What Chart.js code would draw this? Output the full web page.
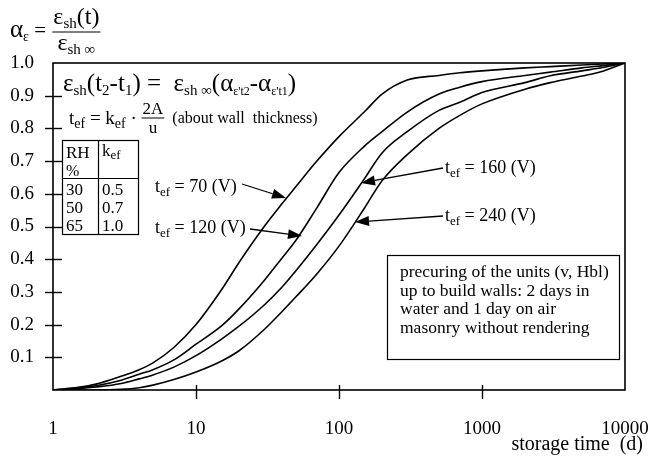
<!DOCTYPE html>
<html>
<head>
<meta charset="utf-8">
<script src="https://cdn.jsdelivr.net/npm/chart.js@4/dist/chart.umd.min.js"></script>
<style>
  body { margin: 0; background: #fff; }
  canvas { display: block; }
</style>
</head>
<body>
<canvas id="chart" width="652" height="457"></canvas>
<script>
// storage time (d) and shrinkage ratio alpha for each effective thickness
const days   = [1, 1.5, 2, 3, 4, 5, 7, 10, 15, 20, 30, 40, 50, 70, 100, 150, 200, 300, 500, 700, 1000, 2000, 3000, 5000, 7000, 10000];
const tef70  = [0, 0.008, 0.018, 0.042, 0.062, 0.083, 0.13, 0.2, 0.305, 0.39, 0.5, 0.57, 0.622, 0.7, 0.775, 0.85, 0.905, 0.948, 0.962, 0.97, 0.976, 0.985, 0.989, 0.994, 0.997, 1.0];
const tef120 = [0, 0.006, 0.013, 0.03, 0.048, 0.062, 0.092, 0.14, 0.195, 0.248, 0.335, 0.404, 0.458, 0.557, 0.665, 0.745, 0.79, 0.85, 0.905, 0.926, 0.943, 0.962, 0.972, 0.985, 0.992, 1.0];
const tef160 = [0, 0.004, 0.009, 0.02, 0.034, 0.046, 0.07, 0.105, 0.155, 0.195, 0.26, 0.315, 0.365, 0.445, 0.535, 0.645, 0.725, 0.79, 0.855, 0.88, 0.91, 0.94, 0.961, 0.976, 0.986, 1.0];
const tef240 = [0, 0, 0, 0.002, 0.007, 0.015, 0.032, 0.055, 0.088, 0.12, 0.185, 0.24, 0.285, 0.355, 0.44, 0.555, 0.64, 0.72, 0.8, 0.84, 0.875, 0.92, 0.94, 0.96, 0.975, 1.0];

const xTicks = [1, 10, 100, 1000, 10000];
const yTicks = [0.1, 0.2, 0.3, 0.4, 0.5, 0.6, 0.7, 0.8, 0.9];

// RH table
const rhValues  = ['30', '50', '65'];
const kefValues = ['0.5', '0.7', '1.0'];

const noteLines = [
    'precuring of the units (v, Hbl)',
    'up to build walls: 2 days in',
    'water and 1 day on air',
    'masonry without rendering'
];

const FONT = '"Liberation Serif", "DejaVu Serif", serif';

function rich(ctx, x, y, parts) {
    for (const [t, size, dy] of parts) {
        ctx.font = size + 'px ' + FONT;
        ctx.fillText(t, x, y + (dy || 0));
        x += ctx.measureText(t).width;
    }
    return x;
}

function richWidth(ctx, parts) {
    let w = 0;
    for (const [t, size] of parts) {
        ctx.font = size + 'px ' + FONT;
        w += ctx.measureText(t).width;
    }
    return w;
}

function fraction(ctx, x, yNum, yLine, yDen, num, den) {
    const wn = richWidth(ctx, num), wd = richWidth(ctx, den);
    const w = Math.max(wn, wd) + 2;
    rich(ctx, x + (w - wn) / 2, yNum, num);
    rich(ctx, x + (w - wd) / 2, yDen, den);
    ctx.beginPath();
    ctx.moveTo(x, yLine);
    ctx.lineTo(x + w, yLine);
    ctx.lineWidth = 1;
    ctx.stroke();
    return x + w;
}

function arrow(ctx, x1, y1, x2, y2) {
    const a = Math.atan2(y2 - y1, x2 - x1);
    const len = 14, hw = 5;
    ctx.beginPath();
    ctx.moveTo(x1, y1);
    ctx.lineTo(x2 - Math.cos(a) * len, y2 - Math.sin(a) * len);
    ctx.lineWidth = 1.3;
    ctx.stroke();
    ctx.beginPath();
    ctx.moveTo(x2, y2);
    ctx.lineTo(x2 - Math.cos(a) * len - Math.sin(a) * hw, y2 - Math.sin(a) * len + Math.cos(a) * hw);
    ctx.lineTo(x2 - Math.cos(a) * len + Math.sin(a) * hw, y2 - Math.sin(a) * len - Math.cos(a) * hw);
    ctx.closePath();
    ctx.fill();
}

function tefLabel(ctx, x, y, value) {
    rich(ctx, x, y, [['t', 18], ['ef', 13, 4], [' = ' + value + ' (V)', 18]]);
}

const decorations = {
    id: 'decorations',
    afterDraw(chart) {
        const ctx = chart.ctx;
        const area = chart.chartArea;
        const xs = chart.scales.x, ys = chart.scales.y;
        ctx.save();
        ctx.fillStyle = '#000';
        ctx.strokeStyle = '#000';
        ctx.textBaseline = 'alphabetic';
        ctx.textAlign = 'left';

        // frame
        ctx.lineWidth = 1.6;
        ctx.strokeRect(area.left, area.top, area.right - area.left, area.bottom - area.top);

        // tick marks
        ctx.lineWidth = 1.4;
        yTicks.forEach(v => {
            const y = Math.round(ys.getPixelForValue(v)) + 0.5;
            ctx.beginPath();
            ctx.moveTo(area.left - 8, y);
            ctx.lineTo(area.left + 9, y);
            ctx.stroke();
        });
        xTicks.slice(1, -1).forEach(v => {
            const x = Math.round(xs.getPixelForValue(v)) + 0.5;
            ctx.beginPath();
            ctx.moveTo(x, area.bottom - 5);
            ctx.lineTo(x, area.bottom + 9);
            ctx.stroke();
        });

        // y axis title: alpha = eps_sh(t) / eps_sh inf
        let x = rich(ctx, 10, 37, [['α', 25], ['ε', 14, 4], [' = ', 21]]);
        fraction(ctx, x + 1, 24, 32, 50,
            [['ε', 24], ['sh', 15, 4], ['(t)', 24]],
            [['ε', 24], ['sh ∞', 15, 4]]);

        // x axis title
        ctx.font = '20px ' + FONT;
        ctx.textAlign = 'right';
        ctx.fillText('storage time  (d)', 643, 450);
        ctx.textAlign = 'left';

        // formulas
        rich(ctx, 63, 91, [['ε', 25], ['sh', 15, 4], ['(t', 25], ['2', 15, 4], ['-t', 25], ['1', 15, 4],
            [') =  ', 25], ['ε', 25], ['sh ∞', 15, 4], ['(α', 25], ["ε't2", 12, 4], ['-α', 25], ["ε't1", 12, 4], [')', 25]]);
        x = rich(ctx, 69, 124, [['t', 19], ['ef', 14, 4], [' = k', 19], ['ef', 14, 4], [' · ', 19]]);
        x = fraction(ctx, x, 114, 118, 133, [['2A', 17]], [['u', 17]]);
        rich(ctx, x, 123, [['  (about wall  thickness)', 16]]);

        // RH / kef table
        ctx.lineWidth = 1.2;
        ctx.strokeRect(62.5, 140.5, 76, 94);
        ctx.beginPath();
        ctx.moveTo(98.5, 140.5); ctx.lineTo(98.5, 234.5);
        ctx.moveTo(62.5, 178.5); ctx.lineTo(138.5, 178.5);
        ctx.stroke();
        rich(ctx, 66, 158, [['RH', 17]]);
        rich(ctx, 66, 176, [['%', 16]]);
        rich(ctx, 102, 156, [['k', 17], ['ef', 13, 3]]);
        rhValues.forEach((v, i) => {
            rich(ctx, 66, 195 + i * 18, [[v, 17]]);
            rich(ctx, 102, 195 + i * 18, [[kefValues[i], 17]]);
        });

        // curve labels with arrows
        tefLabel(ctx, 155, 192, 70);
        arrow(ctx, 242, 184, 286, 198);
        tefLabel(ctx, 155, 233, 120);
        arrow(ctx, 250, 229, 302, 236);
        tefLabel(ctx, 445, 173, 160);
        arrow(ctx, 443, 168, 361, 183);
        tefLabel(ctx, 445, 221, 240);
        arrow(ctx, 443, 216, 355, 222);

        // note box
        ctx.lineWidth = 1.2;
        ctx.strokeRect(387.5, 255.5, 232, 104);
        ctx.font = '17.5px ' + FONT;
        noteLines.forEach((t, i) => ctx.fillText(t, 400, 277 + i * 18.5));

        ctx.restore();
    }
};

function series(values) {
    return {
        data: days.map((d, i) => ({ x: d, y: values[i] })),
        borderColor: '#000',
        borderWidth: 1.6,
        pointRadius: 0,
        fill: false,
        cubicInterpolationMode: 'monotone'
    };
}

new Chart(document.getElementById('chart').getContext('2d'), {
    type: 'line',
    data: {
        datasets: [series(tef70), series(tef120), series(tef160), series(tef240)]
    },
    options: {
        responsive: false,
        animation: false,
        events: [],
        layout: { padding: { top: 63, right: 27, left: 0, bottom: 0 } },
        plugins: { legend: { display: false }, tooltip: { enabled: false } },
        scales: {
            x: {
                type: 'logarithmic',
                min: 1,
                max: 10000,
                afterBuildTicks: s => { s.ticks = xTicks.map(v => ({ value: v })); },
                afterFit: s => { s.height = 67; s.paddingLeft = 0; s.paddingRight = 0; },
                grid: { display: false, drawTicks: false },
                border: { display: false },
                ticks: {
                    autoSkip: false,
                    maxRotation: 0,
                    padding: 28,
                    color: '#000',
                    font: { family: FONT, size: 19 },
                    callback: v => String(v)
                }
            },
            y: {
                min: 0,
                max: 1,
                afterBuildTicks: s => { s.ticks = [0].concat(yTicks, [1]).map(v => ({ value: v })); },
                afterFit: s => { s.width = 53; s.paddingTop = 0; s.paddingBottom = 0; },
                grid: { display: false, drawTicks: false },
                border: { display: false },
                ticks: {
                    padding: 19,
                    color: '#000',
                    font: { family: FONT, size: 19 },
                    callback: v => (v === 0 ? '' : v.toFixed(1))
                }
            }
        }
    },
    plugins: [decorations]
});
</script>
</body>
</html>
